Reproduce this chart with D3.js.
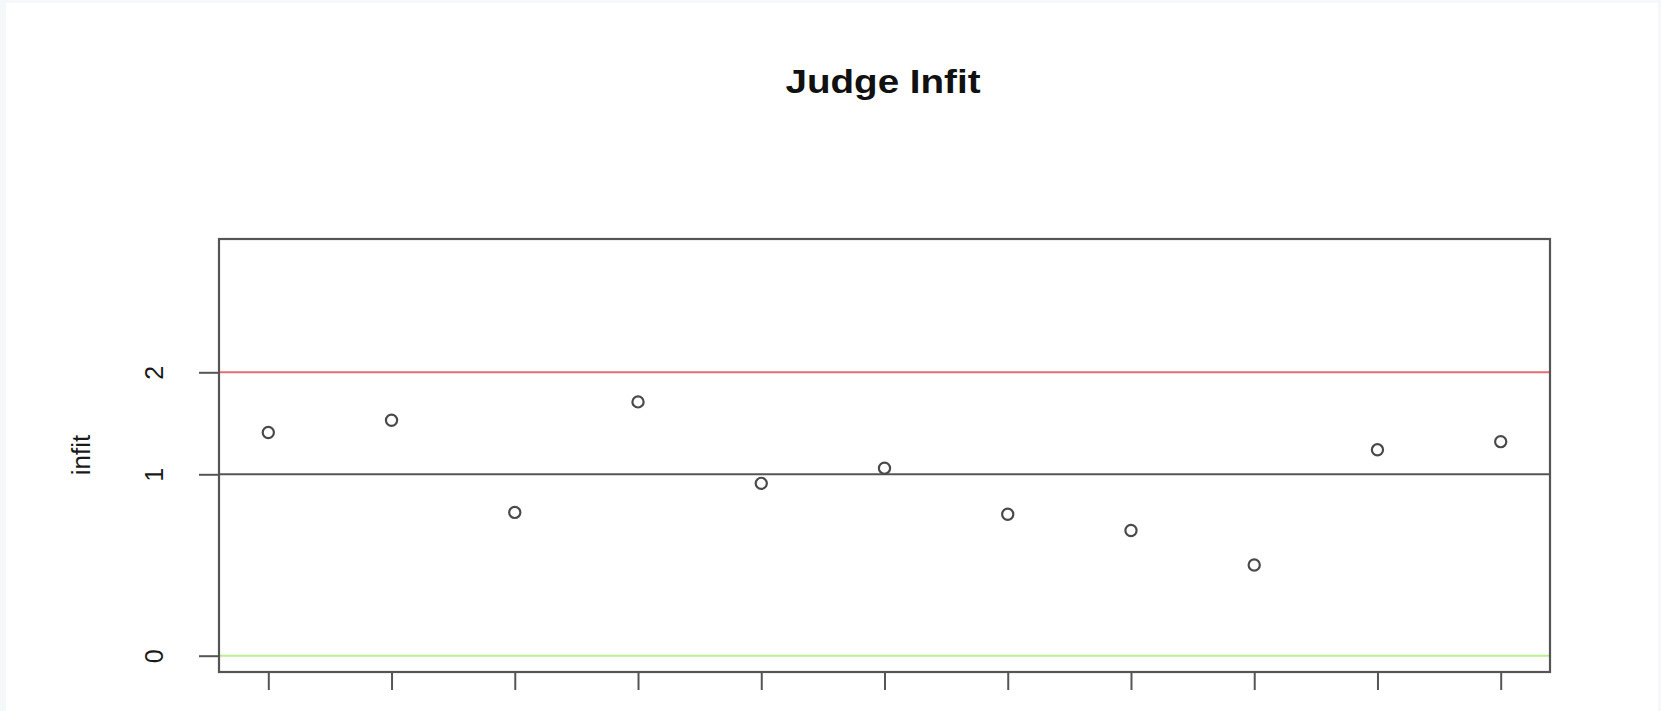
<!DOCTYPE html>
<html>
<head>
<meta charset="utf-8">
<script src="https://cdn.jsdelivr.net/npm/d3@7"></script>
<style>
  html, body { margin: 0; padding: 0; background: #f4f8fb; }
  svg { display: block; }
</style>
</head>
<body>
<svg width="1661" height="711"></svg>
<script>
// judge index 1..11 and their infit values
var judges = [1, 2, 3, 4, 5, 6, 7, 8, 9, 10, 11];
var infit = [1.41, 1.53, 0.79, 1.71, 0.95, 1.06, 0.78, 0.69, 0.50, 1.24, 1.32];
var yTicks = [0, 1, 2];
var refLines = [2, 1, 0];
var refColors = ["#e46c72", "#555555", "#bdee90"];

var svg = d3.select("svg"),
    width = +svg.attr("width"),
    height = +svg.attr("height");

// white page area
svg.append("rect")
    .attr("x", 6).attr("y", 3)
    .attr("width", 1652).attr("height", height - 3)
    .attr("fill", "#fff");

var plotL = 219, plotR = 1550, plotT = 239, plotB = 672;

var x = d3.scaleLinear()
    .domain([0.6, 11.4])
    .range([plotL, plotR]);

// the axis in the picture is not evenly spaced, so a piecewise scale
var y = d3.scaleLinear()
    .domain(yTicks)
    .range([655.7, 474.3, 372.3]);

var g = svg.append("g");

// reference lines
g.selectAll("line.ref")
    .data(refLines)
    .enter().append("line")
    .attr("class", "ref")
    .attr("x1", plotL).attr("x2", plotR)
    .attr("y1", function(d) { return y(d); })
    .attr("y2", function(d) { return y(d); })
    .attr("stroke", function(d, i) { return refColors[i]; })
    .attr("stroke-width", 2);

// points
g.selectAll("circle")
    .data(infit)
    .enter().append("circle")
    .attr("cx", function(d, i) { return x(judges[i]); })
    .attr("cy", function(d) { return y(d); })
    .attr("r", 5.6)
    .attr("fill", "none")
    .attr("stroke", "#4a4a4a")
    .attr("stroke-width", 2.2);

// plot box
g.append("rect")
    .attr("x", plotL).attr("y", plotT)
    .attr("width", plotR - plotL).attr("height", plotB - plotT)
    .attr("fill", "none")
    .attr("stroke", "#555")
    .attr("stroke-width", 2.2);

// x axis: ticks only, labels fall off the bottom
var xAxis = g.append("g")
    .attr("transform", "translate(0," + plotB + ")")
    .call(d3.axisBottom(x).tickValues(judges).tickSize(18).tickFormat(""));
xAxis.select(".domain").remove();
xAxis.selectAll("line").attr("stroke", "#555").attr("stroke-width", 2);

// y axis
var yAxis = g.append("g")
    .attr("transform", "translate(" + plotL + ",0)")
    .call(d3.axisLeft(y).tickValues(yTicks).tickSize(20).tickFormat(d3.format("d")));
yAxis.select(".domain").remove();
yAxis.selectAll("line").attr("stroke", "#555").attr("stroke-width", 2);
yAxis.selectAll("text")
    .attr("x", null).attr("dy", null)
    .attr("text-anchor", "middle")
    .attr("font-family", "Liberation Sans, Arial, sans-serif")
    .attr("font-size", 25)
    .attr("fill", "#1a1a1a")
    .attr("transform", "translate(-56,0) rotate(-90)");

// y label
svg.append("text")
    .attr("transform", "translate(90,455) rotate(-90)")
    .attr("text-anchor", "middle")
    .attr("font-family", "Liberation Sans, Arial, sans-serif")
    .attr("font-size", 26)
    .attr("fill", "#1a1a1a")
    .text("infit");

// title
svg.append("text")
    .attr("x", 883).attr("y", 93)
    .attr("text-anchor", "middle")
    .attr("font-family", "Liberation Sans, Arial, sans-serif")
    .attr("font-weight", "bold")
    .attr("font-size", 34)
    .attr("textLength", 195)
    .attr("lengthAdjust", "spacingAndGlyphs")
    .attr("fill", "#111")
    .text("Judge Infit");
</script>
</body>
</html>
